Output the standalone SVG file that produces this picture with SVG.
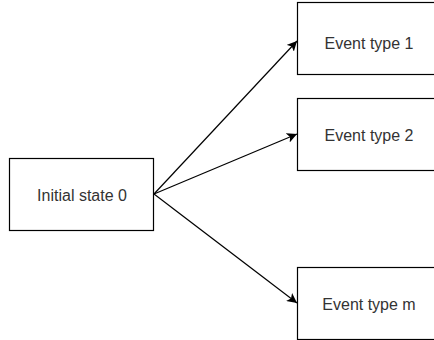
<svg xmlns="http://www.w3.org/2000/svg" width="434" height="340" viewBox="0 0 434 340">
<style>
.box{fill:#fff;stroke:#000;stroke-width:1.2}
.lbl{font-family:"Liberation Sans",Arial,sans-serif;font-size:16px;fill:#333;text-anchor:middle;dominant-baseline:central}
.edge{stroke:#000;stroke-width:1.2;fill:none}
</style>
<defs>
<marker id="arr" viewBox="0 0 10 10" refX="10" refY="5" markerWidth="10" markerHeight="10" markerUnits="userSpaceOnUse" orient="auto">
<path d="M0,0 L10,5 L0,10 L2.5,5 Z" fill="#000"/>
</marker>
</defs>
<rect width="434" height="340" fill="#fff"/>
<g id="connectors">
<line class="edge" x1="154" y1="194" x2="297" y2="41" marker-end="url(#arr)"/>
<line class="edge" x1="154" y1="194" x2="297" y2="134" marker-end="url(#arr)"/>
<line class="edge" x1="154" y1="194" x2="297" y2="303" marker-end="url(#arr)"/>
</g>
<g id="n0"><rect class="box" x="9.5" y="158.5" width="144" height="72"/><text class="lbl" x="82" y="195">Initial state 0</text></g>
<g id="n1"><rect class="box" x="297.5" y="2.5" width="144" height="72"/><text class="lbl" x="369" y="43">Event type 1</text></g>
<g id="n2"><rect class="box" x="297.5" y="98.5" width="144" height="72"/><text class="lbl" x="369" y="135">Event type 2</text></g>
<g id="nm"><rect class="box" x="297.5" y="267.5" width="144" height="72"/><text class="lbl" x="369" y="304">Event type m</text></g>
</svg>
